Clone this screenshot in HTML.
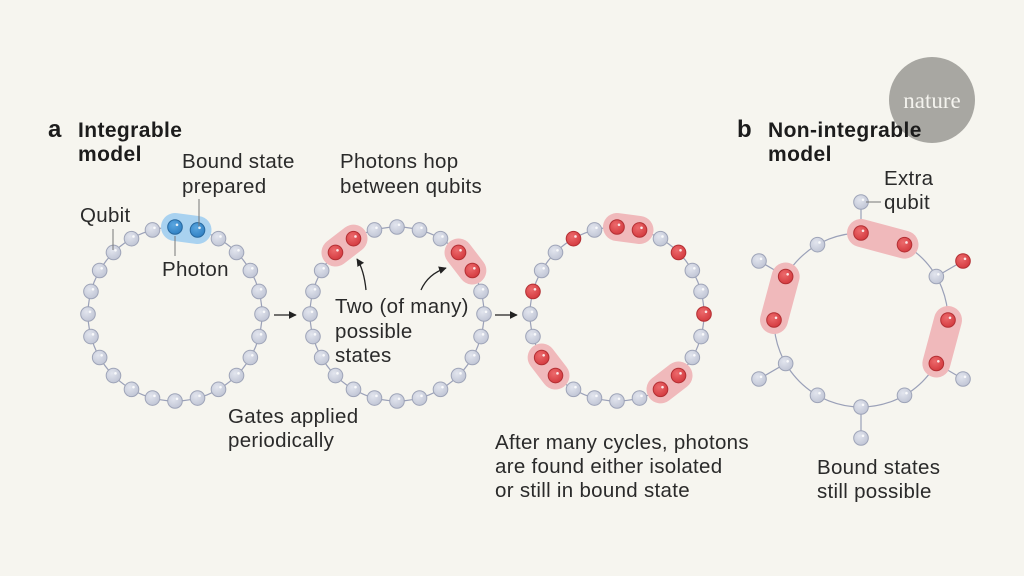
<!DOCTYPE html>
<html><head><meta charset="utf-8"><style>
html,body{margin:0;padding:0;background:#f6f5ef;}
svg{display:block}
text{font-family:"Liberation Sans",sans-serif;fill:#2a2a2a;font-size:20.5px;letter-spacing:0.3px}
.h{font-weight:bold;font-size:21px;fill:#1c1c1c;letter-spacing:0.4px}
</style></head><body>
<svg id="s" width="1024" height="576" viewBox="0 0 1024 576" xmlns="http://www.w3.org/2000/svg">
<defs>
<radialGradient id="gg" cx="0.4" cy="0.35" r="0.7"><stop offset="0" stop-color="#e2e5ee"/><stop offset="1" stop-color="#bfc4d4"/></radialGradient>
<radialGradient id="rg" cx="0.4" cy="0.35" r="0.7"><stop offset="0" stop-color="#ec6a6c"/><stop offset="1" stop-color="#d3383d"/></radialGradient>
<radialGradient id="bg" cx="0.4" cy="0.35" r="0.7"><stop offset="0" stop-color="#5aa6e0"/><stop offset="1" stop-color="#2e7fc2"/></radialGradient>
<marker id="ar" viewBox="0 0 10 10" refX="9" refY="5" markerWidth="6" markerHeight="6" orient="auto"><path d="M0,0 L10,5 L0,10 z" fill="#222"/></marker>
</defs>
<circle cx="932" cy="100" r="43" fill="#a8a7a2"/>
<text x="932" y="108" text-anchor="middle" style="font-family:'Liberation Serif',serif;font-size:23px;fill:#f4f3ee;letter-spacing:0">nature</text>
<g id="g"></g>
<text class="h" x="48" y="137" style="font-size:24px">a</text>
<text class="h" x="78" y="137">Integrable</text>
<text class="h" x="78" y="161">model</text>
<text class="h" x="737" y="137" style="font-size:24px">b</text>
<text class="h" x="768" y="137">Non-integrable</text>
<text class="h" x="768" y="161">model</text>
<text x="182" y="168">Bound state</text><text x="182" y="193">prepared</text>
<text x="340" y="168">Photons hop</text><text x="340" y="193">between qubits</text>
<text x="80" y="222">Qubit</text>
<text x="162" y="276">Photon</text>
<text x="335" y="313">Two (of many)</text><text x="335" y="338">possible</text><text x="335" y="362">states</text>
<text x="228" y="423">Gates applied</text><text x="228" y="447">periodically</text>
<text x="495" y="449">After many cycles, photons</text><text x="495" y="473">are found either isolated</text><text x="495" y="497">or still in bound state</text>
<text x="884" y="185">Extra</text><text x="884" y="209">qubit</text>
<text x="817" y="474">Bound states</text><text x="817" y="498">still possible</text>
<g stroke="#777" stroke-width="1" fill="none">
<line x1="113" y1="229" x2="113" y2="250"/>
<line x1="175" y1="236" x2="175" y2="256"/>
<line x1="199" y1="199" x2="199" y2="226"/>
<line x1="866" y1="202" x2="881" y2="202"/>
</g>
<g stroke="#222" stroke-width="1.3" fill="none" marker-end="url(#ar)">
<line x1="274" y1="315" x2="296" y2="315"/>
<line x1="495" y1="315" x2="517" y2="315"/>
<path d="M366,290 Q364,270 357,259"/>
<path d="M421,290 Q428,274 446,268"/>
</g>
</svg>
<script>
var g=document.getElementById('g'),ns='http://www.w3.org/2000/svg',L=[],P=[],N=[];
function el(t,a,arr){var e=document.createElementNS(ns,t);for(var k in a)e.setAttribute(k,a[k]);arr.push(e);}
function pos(cx,cy,r,i,n){var a=(-90+360/n*i)*Math.PI/180;return [cx+r*Math.cos(a),cy+r*Math.sin(a)];}
function node(x,y,c){var f=c=='r'?'url(#rg)':c=='b'?'url(#bg)':'url(#gg)',s=c=='r'?'#b32f33':c=='b'?'#25679e':'#9ea4b8';el('circle',{cx:x,cy:y,r:7.3,fill:f,stroke:s,'stroke-width':1},N);el('circle',{cx:x+2,cy:y-2.2,r:1.3,fill:'#fff',opacity:0.85},N);}
function pill(a,b,col){el('line',{x1:a[0],y1:a[1],x2:b[0],y2:b[1],stroke:col,'stroke-width':28,'stroke-linecap':'round'},P);}
function ring(cx,cy,r,n,reds,blues,pills,pc){
 el('circle',{cx:cx,cy:cy,r:r,fill:'none',stroke:'#9aa0b8','stroke-width':1.2},L);
 for(var k=0;k<pills.length;k++)pill(pos(cx,cy,r,pills[k][0],n),pos(cx,cy,r,pills[k][1],n),pc);
 for(var i=0;i<n;i++){var p=pos(cx,cy,r,i,n);node(p[0],p[1],reds.indexOf(i)>=0?'r':blues.indexOf(i)>=0?'b':'g');}
}
ring(175,314,87,24,[],[0,1],[[0,1]],'#a9d2f0');
ring(397,314,87,24,[21,22,3,4],[],[[21,22],[3,4]],'#f0b9bb');
ring(617,314,87,24,[22,0,1,3,19,6,15,16,9,10],[],[[0,1],[15,16],[9,10]],'#f0b9bb');
var cx=861,cy=320,r=87;
el('circle',{cx:cx,cy:cy,r:r,fill:'none',stroke:'#9aa0b8','stroke-width':1.2},L);
var ex=[[0,861,202,'g'],[10,759,261,'g'],[2,963,261,'r'],[8,759,379,'g'],[4,963,379,'g'],[6,861,438,'g']];
for(var k=0;k<ex.length;k++){var p=pos(cx,cy,r,ex[k][0],12);el('line',{x1:p[0],y1:p[1],x2:ex[k][1],y2:ex[k][2],stroke:'#9aa0b8','stroke-width':1.2},L);}
pill(pos(cx,cy,r,10,12),pos(cx,cy,r,9,12),'#f0b9bb');
pill(pos(cx,cy,r,0,12),pos(cx,cy,r,1,12),'#f0b9bb');
pill(pos(cx,cy,r,3,12),pos(cx,cy,r,4,12),'#f0b9bb');
var rb=[0,1,3,4,9,10];
for(var i=0;i<12;i++){var p=pos(cx,cy,r,i,12);node(p[0],p[1],rb.indexOf(i)>=0?'r':'g');}
for(var k=0;k<ex.length;k++)node(ex[k][1],ex[k][2],ex[k][3]);
[L,P,N].forEach(function(a){a.forEach(function(e){g.appendChild(e);});});
</script>
</body></html>
